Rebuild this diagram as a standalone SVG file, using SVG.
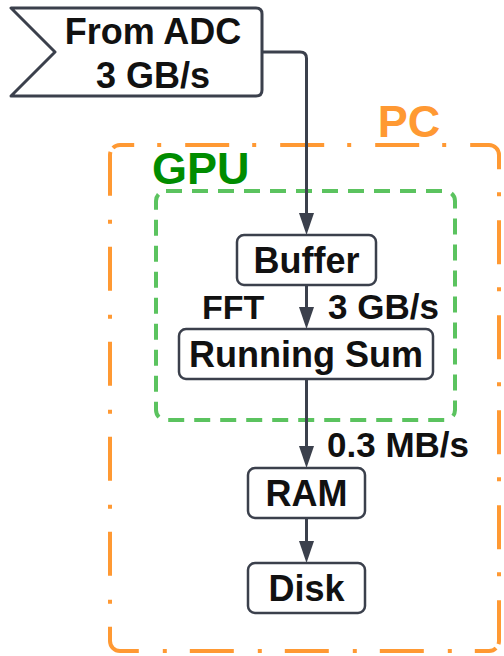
<svg xmlns="http://www.w3.org/2000/svg" width="504" height="656" viewBox="0 0 504 656">
<style>
.node{fill:#fff;stroke:#3b404c;stroke-width:2.5}
.t{font-family:"Liberation Sans",Arial,sans-serif;font-weight:bold;font-size:36px;fill:#111;text-anchor:middle}
.lbl{font-family:"Liberation Sans",Arial,sans-serif;font-weight:bold;font-size:35px;fill:#111}
.edge{fill:none;stroke:#3b404c;stroke-width:3}
</style>
<defs>
<marker id="arr" markerUnits="userSpaceOnUse" markerWidth="24" markerHeight="16" refX="0" refY="7.5" orient="auto" overflow="visible">
<path d="M0,0 L22,7.5 L0,15 Z" fill="#3b404c"/>
</marker>
</defs>
<g id="pc">
<path d="M112.93,147.93 A10,10 0 0 1 120,145 H489 A10,10 0 0 1 496.07,147.93 M496.07,147.93 A10,10 0 0 1 499,155 V641 A10,10 0 0 1 496.07,648.07 M496.07,648.07 A10,10 0 0 1 489,651 H120 A10,10 0 0 1 112.93,648.07 M112.93,648.07 A10,10 0 0 1 110,641 V155 A10,10 0 0 1 112.93,147.93" fill="none" stroke="#ff9933" stroke-width="4" stroke-dasharray="44 23 4 24" stroke-dashoffset="22"/>
<text x="409" y="137" font-family="Liberation Sans,Arial,sans-serif" font-weight="bold" font-size="45" fill="#ff9933" text-anchor="middle">PC</text>
</g>
<g id="gpu">
<rect x="156" y="191" width="299" height="229" rx="10" fill="none" stroke="#5bc35f" stroke-width="4" stroke-dasharray="16 10"/>
<text x="152" y="184" font-family="Liberation Sans,Arial,sans-serif" font-weight="bold" font-size="45" fill="#008c00">GPU</text>
</g>
<g id="connectors">
<path class="edge" d="M262,52 H300 Q306.5,52 306.5,58.5 V213" marker-end="url(#arr)"/>
<path class="edge" d="M306.5,285 V307" marker-end="url(#arr)"/>
<path class="edge" d="M306.5,379 V446" marker-end="url(#arr)"/>
<path class="edge" d="M306.5,518 V541" marker-end="url(#arr)"/>
<text class="lbl" x="202" y="319" style="font-size:34px">FFT</text>
<text class="lbl" x="328" y="319">3 GB/s</text>
<text class="lbl" x="327" y="457">0.3 MB/s</text>
</g>
<g id="from-adc">
<path d="M11,8 H256 Q262,8 262,14 V90 Q262,96 256,96 H11 L55,52 Z" fill="#fff" stroke="#3b404c" stroke-width="3" stroke-linejoin="round"/>
<text class="t" x="153" y="44">From ADC</text>
<text class="t" x="153" y="88">3 GB/s</text>
</g>
<g id="buffer">
<rect class="node" x="237" y="235" width="139" height="50" rx="7"/>
<text class="t" x="306.5" y="273">Buffer</text>
</g>
<g id="running-sum">
<rect class="node" x="179" y="329" width="254" height="50" rx="7"/>
<text class="t" x="306" y="367">Running Sum</text>
</g>
<g id="ram">
<rect class="node" x="248" y="468" width="117" height="50" rx="7"/>
<text class="t" x="306.5" y="506">RAM</text>
</g>
<g id="disk">
<rect class="node" x="248" y="563" width="117" height="50" rx="7"/>
<text class="t" x="306.5" y="601">Disk</text>
</g>
</svg>
